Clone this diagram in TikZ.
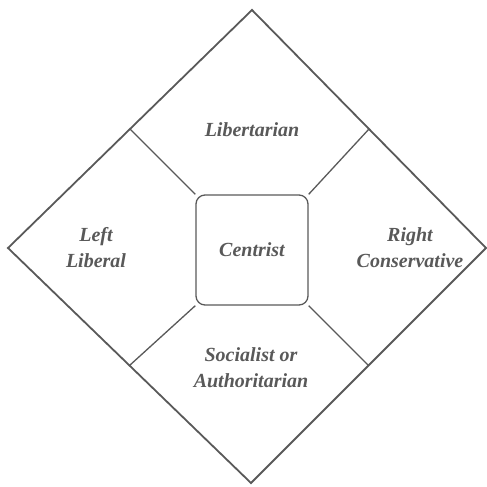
\documentclass[tikz,border=0pt]{standalone}
\usepackage{fontspec}
\setmainfont{Liberation Serif}
\usetikzlibrary{calc}
\definecolor{ink}{gray}{0.35}

\begin{document}
\begin{tikzpicture}[x=1pt,y=-1pt,
 line/.style={draw=ink,line width=1.3pt},
 label/.style={text=ink,align=center,font=\fontsize{20}{26}\selectfont\bfseries\itshape},
 centre/.style={draw=ink,line width=1.3pt,rounded corners=9pt,minimum width=112pt,minimum height=110pt}]
\useasboundingbox (0,0) rectangle (487,487);
\coordinate (top) at (252,10);\coordinate (left) at (8,248);
\coordinate (bottom) at (251,483);\coordinate (right) at (486,248);
\draw[line,line width=1.8pt](top)--(right)--(bottom)--(left)--cycle;
\node[centre,label](c) at (252,250){Centrist};
\coordinate (tl) at ($(top)!0.5!(left)$);\coordinate (tr) at ($(top)!0.5!(right)$);
\coordinate (bl) at ($(bottom)!0.5!(left)$);\coordinate (br) at ($(bottom)!0.5!(right)$);
\draw[line](c.north west)--(tl);\draw[line](c.north east)--(tr);
\draw[line](c.south west)--(bl);\draw[line](c.south east)--(br);
\node[label](lib) at (252,130){Libertarian};
\node[label](lft) at (96,248){Left\\Liberal};
\node[label](rgt) at (410,248){Right\\Conservative};
\node[label](soc) at (251,368){Socialist or\\Authoritarian};
\end{tikzpicture}
\end{document}
